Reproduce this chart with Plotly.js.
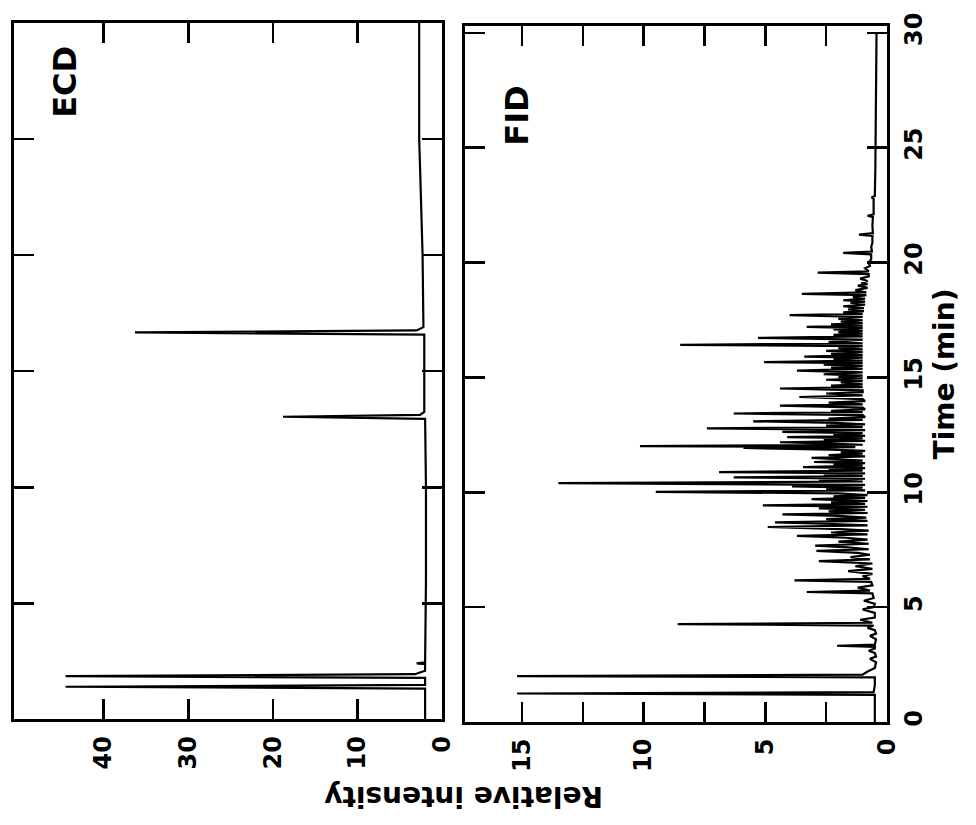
<!DOCTYPE html>
<html>
<head>
<meta charset="utf-8">
<script src="https://cdn.plot.ly/plotly-3.0.1.min.js"></script>
<style>html,body{margin:0;padding:0;background:#fff;}#chart{width:976px;height:825px;}</style>
</head>
<body>
<div id="chart"></div>
<script>
// ECD chromatogram (time in min, relative intensity)
const ecdTime = [0, 1.33, 1.41, 1.49, 1.79, 1.87, 1.95, 2.10, 2.38, 2.42, 2.46, 6.0, 10.0,
  12.95, 13.04, 13.12, 13.25, 16.58, 16.67, 16.76, 16.90, 20.0, 23.8, 25.0, 30.0];
const ecdIntensity = [2.0, 2.0, 44.5, 2.0, 2.0, 44.5, 3.2, 2.0, 2.0, 3.0, 2.0, 1.9, 1.9,
  2.0, 18.8, 2.6, 2.1, 2.1, 36.3, 3.0, 2.2, 2.3, 2.6, 2.7, 2.7];

// FID chromatogram (time in min, relative intensity)
const fidTime = [
  0, 1.18, 1.24, 1.30, 1.60, 1.94, 2.00, 2.06, 2.20, 2.35,
  2.60, 2.75, 2.85, 3.00, 3.10, 3.20, 3.27, 3.32, 3.37, 3.60,
  3.75, 3.85, 4.00, 4.10, 4.20, 4.26, 4.32, 4.45, 4.55, 4.75,
  4.90, 5.00, 5.15, 5.28, 5.40, 5.60, 5.66, 5.72, 5.85, 5.95,
  6.10, 6.17, 6.23, 6.35, 6.45, 6.57, 6.67, 6.78, 6.90, 7.00,
  7.08, 7.18, 7.28, 7.36, 7.45, 7.52, 7.60, 7.68, 7.76, 7.85,
  7.94, 8.02, 8.10, 8.17, 8.25, 8.33, 8.40, 8.49, 8.56, 8.62,
  8.69, 8.76, 8.83, 8.90, 8.97, 9.04, 9.10, 9.17, 9.24, 9.30,
  9.37, 9.43, 9.50, 9.56, 9.62, 9.70, 9.76, 9.82, 9.88, 9.95,
  10.02, 10.08, 10.14, 10.20, 10.26, 10.32, 10.40, 10.47, 10.53, 10.59,
  10.65, 10.71, 10.76, 10.82, 10.88, 10.94, 11.00, 11.05, 11.10, 11.16,
  11.22, 11.27, 11.32, 11.38, 11.44, 11.50, 11.56, 11.62, 11.68, 11.74,
  11.80, 11.86, 11.93, 11.97, 12.01, 12.07, 12.12, 12.18, 12.24, 12.30,
  12.36, 12.40, 12.46, 12.52, 12.58, 12.63, 12.71, 12.78, 12.84, 12.90,
  12.96, 13.02, 13.09, 13.15, 13.21, 13.27, 13.36, 13.43, 13.49, 13.55,
  13.61, 13.69, 13.77, 13.83, 13.90, 13.97, 14.06, 14.15, 14.22, 14.30,
  14.36, 14.44, 14.52, 14.58, 14.64, 14.70, 14.78, 14.84, 14.90, 14.96,
  15.02, 15.08, 15.14, 15.22, 15.30, 15.37, 15.43, 15.50, 15.56, 15.62,
  15.67, 15.73, 15.80, 15.86, 15.91, 15.97, 16.03, 16.10, 16.16, 16.22,
  16.28, 16.36, 16.42, 16.48, 16.54, 16.65, 16.72, 16.79, 16.85, 16.91,
  16.97, 17.03, 17.09, 17.15, 17.20, 17.26, 17.31, 17.37, 17.43, 17.49,
  17.55, 17.64, 17.71, 17.77, 17.83, 17.89, 17.96, 18.02, 18.10, 18.17,
  18.24, 18.30, 18.36, 18.43, 18.50, 18.58, 18.64, 18.70, 18.80, 18.90,
  19.00, 19.06, 19.10, 19.20, 19.30, 19.40, 19.50, 19.56, 19.62, 19.75,
  19.85, 20.00, 20.15, 20.36, 20.42, 20.48, 20.70, 20.85, 21.16, 21.22,
  21.28, 21.60, 21.98, 22.04, 22.10, 22.50, 22.78, 22.84, 22.90, 24.00,
  27.00, 30.00];
const fidIntensity = [
  0.5, 0.5, 15.2, 0.55, 0.5, 0.5, 15.2, 1.0, 0.8, 0.5,
  0.45, 0.7, 0.45, 0.5, 0.75, 0.5, 0.5, 2.05, 0.5, 0.45,
  0.7, 0.45, 0.5, 0.8, 0.55, 8.6, 0.6, 1.1, 0.5, 0.5,
  1.0, 0.55, 0.5, 0.95, 0.55, 0.6, 3.3, 0.7, 1.2, 0.6,
  0.65, 3.8, 0.7, 1.0, 0.6, 1.6, 0.6, 1.3, 0.6, 2.8,
  0.7, 1.5, 0.7, 1.2, 2.9, 0.75, 1.6, 2.95, 0.75, 2.0,
  0.8, 1.7, 3.7, 0.8, 2.3, 0.75, 1.9, 4.9, 0.8, 2.2,
  4.6, 0.8, 2.5, 0.85, 2.0, 4.3, 0.8, 2.4, 0.9, 2.8,
  0.8, 5.1, 0.9, 2.3, 0.8, 3.1, 0.9, 2.2, 0.8, 2.0,
  9.5, 0.9, 2.5, 1.0, 3.9, 0.9, 13.5, 1.0, 2.8, 0.9,
  6.3, 1.0, 2.6, 0.9, 6.9, 1.0, 2.4, 0.9, 3.45, 1.0,
  2.2, 0.9, 3.0, 1.0, 2.0, 3.1, 0.9, 2.4, 1.0, 1.9,
  0.9, 2.3, 5.9, 1.3, 10.15, 1.0, 2.3, 4.4, 0.9, 2.6,
  1.0, 4.1, 0.9, 2.2, 1.0, 4.3, 0.9, 7.4, 1.0, 2.5,
  0.9, 2.1, 5.5, 1.0, 2.4, 0.9, 1.0, 6.3, 1.0, 2.3,
  0.9, 1.0, 4.4, 1.0, 2.4, 0.9, 1.0, 3.6, 1.0, 2.5,
  1.0, 1.0, 4.4, 1.0, 2.3, 1.0, 1.9, 1.0, 2.5, 1.0,
  2.0, 1.0, 2.6, 1.0, 3.7, 1.0, 2.3, 1.0, 2.6, 1.0,
  5.05, 1.0, 2.2, 1.0, 3.4, 1.0, 2.3, 1.0, 2.5, 1.0,
  2.0, 1.0, 8.5, 1.0, 2.4, 1.0, 5.3, 1.0, 2.2, 1.0,
  2.0, 1.0, 2.2, 1.0, 3.3, 1.0, 2.3, 1.0, 1.9, 1.0,
  2.0, 1.0, 4.0, 1.0, 1.8, 0.95, 1.6, 0.95, 1.8, 0.9,
  1.5, 0.9, 1.8, 0.9, 1.4, 0.85, 3.5, 0.85, 1.3, 0.8,
  1.2, 0.8, 1.05, 0.8, 1.1, 0.75, 0.75, 2.85, 0.75, 0.9,
  0.7, 0.75, 0.65, 0.65, 1.8, 0.62, 0.65, 0.6, 0.6, 1.15,
  0.58, 0.6, 0.58, 0.8, 0.55, 0.55, 0.55, 0.63, 0.5, 0.48,
  0.45, 0.43];

// Tick labels
const ecdTickVals = [0, 10, 20, 30, 40];
const ecdTickText = ['0', '10', '20', '30', '40'];
const fidTickVals = [0, 2.5, 5, 7.5, 10, 12.5, 15];
const fidTickText = ['0', '', '5', '', '10', '', '15'];
const timeTickVals = [0, 5, 10, 15, 20, 25, 30];
const timeTickText = ['0', '5', '10', '15', '20', '25', '30'];
const panelLabels = ['ECD', 'FID'];

const FONT = 'DejaVu Sans, Liberation Sans, Arial, sans-serif';
const tickFont = {family: FONT, size: 24, color: '#000', weight: 'bold'};

const axisCommon = {
  ticks: 'inside', ticklen: 20, tickwidth: 2.5, tickcolor: '#000',
  showline: true, linewidth: 3, linecolor: '#000', mirror: 'ticks',
  showgrid: false, zeroline: false, fixedrange: true, tickfont: tickFont
};

const traces = [
  {x: ecdIntensity, y: ecdTime, xaxis: 'x', yaxis: 'y', type: 'scatter', mode: 'lines',
   line: {color: '#000', width: 2.2}, hoverinfo: 'skip', name: panelLabels[0]},
  {x: fidIntensity, y: fidTime, xaxis: 'x2', yaxis: 'y2', type: 'scatter', mode: 'lines',
   line: {color: '#000', width: 2.2}, hoverinfo: 'skip', name: panelLabels[1]}
];

const layout = {
  width: 976, height: 825,
  margin: {l: 14, r: 89, t: 23, b: 103, pad: 0},
  paper_bgcolor: '#fff', plot_bgcolor: '#fff',
  showlegend: false,
  font: {family: FONT, size: 24, color: '#000'},
  xaxis: Object.assign({}, axisCommon, {
    domain: [0, 0.4903], range: [50.6, 0], anchor: 'y',
    tickmode: 'array', tickvals: ecdTickVals, ticktext: ecdTickText,
    tickangle: -90, ticklabelstandoff: 4
  }),
  yaxis: Object.assign({}, axisCommon, {
    domain: [0.0036, 1], range: [0, 30], anchor: 'x',
    tickmode: 'array', tickvals: timeTickVals, showticklabels: false
  }),
  xaxis2: Object.assign({}, axisCommon, {
    domain: [0.5166, 1], range: [17.34, 0], anchor: 'y2',
    tickmode: 'array', tickvals: fidTickVals, ticktext: fidTickText,
    tickangle: -90, ticklabelstandoff: 4
  }),
  yaxis2: Object.assign({}, axisCommon, {
    domain: [0, 0.9957], range: [0, 30.3], anchor: 'x2', side: 'right',
    tickmode: 'array', tickvals: timeTickVals, ticktext: timeTickText,
    tickangle: -90, ticklabelstandoff: 3,
    title: {text: 'Time (min)', font: {family: FONT, size: 28, color: '#000', weight: 'bold'}, standoff: 8}
  }),
  annotations: [
    {text: 'Relative intensity', xref: 'paper', yref: 'paper', x: 0.5143, y: -0.1073,
     xanchor: 'center', yanchor: 'middle', textangle: 180, showarrow: false,
     font: {family: FONT, size: 28, color: '#000', weight: 'bold'}},
    {text: panelLabels[0], xref: 'x', yref: 'y', x: 44.5, y: 27.45,
     xanchor: 'center', yanchor: 'middle', textangle: -90, showarrow: false,
     font: {family: FONT, size: 32, color: '#000', weight: 'bold'}},
    {text: panelLabels[1], xref: 'x2', yref: 'y2', x: 15.2, y: 26.4,
     xanchor: 'center', yanchor: 'middle', textangle: -90, showarrow: false,
     font: {family: FONT, size: 32, color: '#000', weight: 'bold'}}
  ]
};

Plotly.newPlot('chart', traces, layout, {displayModeBar: false, staticPlot: true});
</script>
</body>
</html>
